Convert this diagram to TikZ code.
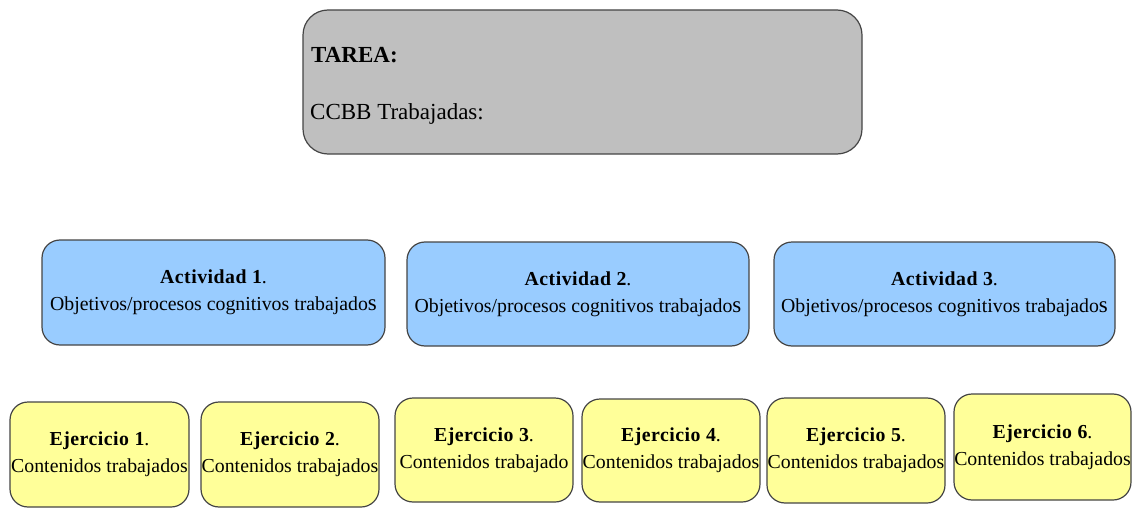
\documentclass[tikz,border=0pt]{standalone}
\usepackage{fontspec}
\setmainfont{Liberation Serif}
\newfontfamily\headfont{Liberation Serif}[LetterSpace=2.5]
\definecolor{boxline}{HTML}{454545}
\definecolor{grayfill}{HTML}{BFBFBF}
\definecolor{bluefill}{HTML}{99CCFF}
\definecolor{yellowfill}{HTML}{FFFF99}
\newcommand{\hd}[1]{{\headfont\bfseries #1}}
\newcommand{\bigs}{{\fontsize{23}{28}\selectfont s}}
\begin{document}
\begin{tikzpicture}[x=1pt,y=-1pt,
  basebox/.style={draw=boxline, line width=1.2pt, inner sep=0pt, align=center,
    font=\fontsize{19.8}{27}\selectfont},
  taskbox/.style={basebox, fill=grayfill, rounded corners=25pt},
  actbox/.style={basebox, fill=bluefill, rounded corners=18pt},
  exbox/.style={basebox, fill=yellowfill, rounded corners=18pt},
  tasktext/.style={inner sep=0pt, anchor=base west, font=\fontsize{23}{27}\selectfont}]
\useasboundingbox (0,0) rectangle (1133,527);
% top box
\node[taskbox, minimum width=559pt, minimum height=144pt] (tarea) at (582.5,82) {};
\node[tasktext] (tareat) at (311,63) {\textbf{TAREA:}};
\node[tasktext] (ccbb) at (310,119) {CCBB Trabajadas:};
% activities
\node[actbox, minimum width=343pt, minimum height=105pt] (a1) at (213.5,292.5)
  {\hd{Actividad 1}.\\Objetivos/procesos cognitivos trabajado\bigs};
\node[actbox, minimum width=342pt, minimum height=104pt] (a2) at (578,294)
  {\hd{Actividad 2}.\\Objetivos/procesos cognitivos trabajado\bigs};
\node[actbox, minimum width=341pt, minimum height=104pt] (a3) at (944.5,294)
  {\hd{Actividad 3}.\\Objetivos/procesos cognitivos trabajado\bigs};
% exercises
\node[exbox, minimum width=179pt, minimum height=105pt] (e1) at (99.5,454.5)
  {\hd{Ejercicio 1}.\\Contenidos trabajados};
\node[exbox, minimum width=178pt, minimum height=105pt] (e2) at (290,454.5)
  {\hd{Ejercicio 2}.\\Contenidos trabajados};
\node[exbox, minimum width=178pt, minimum height=104pt] (e3) at (484,450)
  {\hd{Ejercicio 3}.\\Contenidos trabajado};
\node[exbox, minimum width=178pt, minimum height=103pt] (e4) at (671,450.5)
  {\hd{Ejercicio 4}.\\Contenidos trabajados};
\node[exbox, minimum width=178pt, minimum height=105pt] (e5) at (856,450.5)
  {\hd{Ejercicio 5}.\\Contenidos trabajados};
\node[exbox, minimum width=177pt, minimum height=106pt] (e6) at (1042.5,447)
  {\hd{Ejercicio 6}.\\Contenidos trabajados};
\end{tikzpicture}
\end{document}
